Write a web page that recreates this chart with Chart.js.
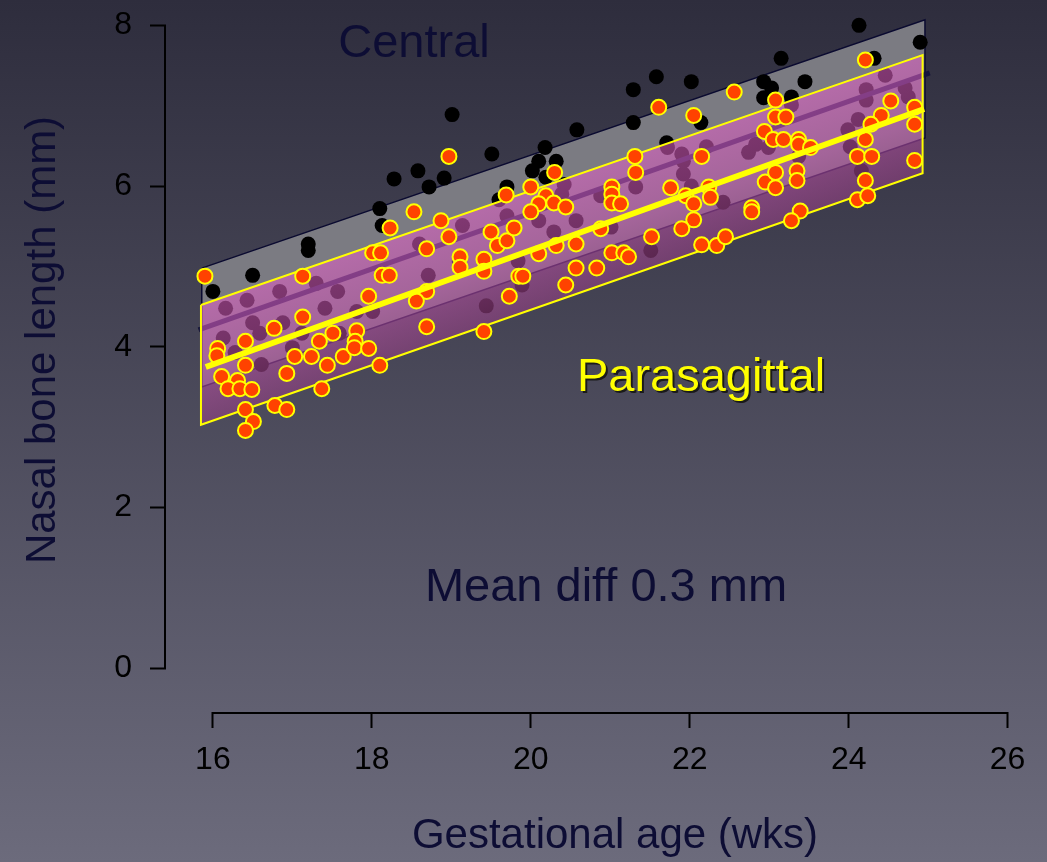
<!DOCTYPE html>
<html>
<head>
<meta charset="utf-8">
<script src="https://cdn.jsdelivr.net/npm/chart.js@4.4.1/dist/chart.umd.min.js"></script>
<style>
  html, body { margin: 0; padding: 0; background: #4c4b5e; }
  #wrap { width: 1047px; height: 862px; }
</style>
</head>
<body>
<div id="wrap"><canvas id="nasal" width="1047" height="862"></canvas></div>
<script>
// tick values
var xTicks = [16, 18, 20, 22, 24, 26];
var yTicks = [0, 2, 4, 6, 8];

// central measurements (black) - some sit under the parasagittal band
var centralX = [16.00,16.50,17.20,17.20,18.10,18.13,18.28,18.58,18.72,18.91,19.01,19.51,20.18,20.10,20.32,20.02,20.19,19.70,19.60,20.58,
  21.29,21.58,22.02,21.29,22.14,21.71,22.93,22.93,23.15,23.45,23.03,23.28,24.13,24.32,24.90,
  16.16,16.43,16.84,17.30,17.57,17.41,17.81,18.01,16.50,16.59,16.88,16.13,16.61,17.00,17.12,17.59,16.28,
  19.14,19.70,20.10,20.29,18.60,18.71,19.10,19.44,19.84,19.89,20.39,20.42,20.57,
  21.72,21.90,21.92,22.21,22.74,22.83,20.88,21.32,22.42,22.02,21.01,21.51,21.92,
  24.46,24.22,24.22,24.71,24.75,24.12,23.99,24.02,22.99,24.16,23.28,23.37];
var centralY = [4.69,4.89,5.28,5.20,5.72,5.51,6.09,6.19,5.99,6.10,6.89,6.40,6.48,6.31,6.31,6.19,6.11,5.99,5.83,6.70,
  7.20,7.36,7.30,6.79,6.79,6.54,7.30,7.10,7.59,7.30,7.22,7.11,8.00,7.59,7.79,
  4.48,4.58,4.69,4.79,4.69,4.48,4.44,4.44,4.30,4.17,4.30,4.11,3.78,3.99,4.17,4.17,3.93,
  5.51,5.63,5.57,5.43,5.28,4.89,5.06,4.51,5.07,4.77,5.90,6.02,5.57,
  6.48,6.40,6.31,6.49,6.42,6.52,5.88,5.99,5.80,6.00,5.49,5.20,6.15,
  7.38,7.20,7.07,7.22,7.11,6.83,6.70,6.49,6.48,6.19,7.01,6.37];

// parasagittal measurements (orange)
var paraX = [15.90,17.13,18.01,18.11,18.13,18.22,17.96,17.13,16.77,16.41,16.06,16.05,16.41,16.11,16.31,16.19,16.34,16.49,16.93,17.03,
  17.24,17.34,17.51,17.44,17.64,17.81,17.79,17.78,17.96,18.10,17.37,16.41,16.78,16.93,16.51,16.41,
  18.97,20.30,18.53,18.23,18.87,19.69,20.00,20.19,20.10,20.00,20.29,20.44,18.97,18.69,19.11,19.11,19.41,19.41,19.50,19.58,
  19.70,19.79,20.10,20.32,20.57,20.57,19.85,19.90,20.44,19.73,18.69,18.56,18.69,19.41,
  22.56,21.61,22.05,21.31,21.32,22.15,22.94,21.02,21.02,21.02,21.13,21.76,21.95,22.05,22.24,22.26,22.05,21.90,22.78,22.78,
  22.95,20.88,21.52,21.02,21.17,21.23,22.15,22.34,22.45,20.83,
  24.21,23.08,23.08,23.21,23.05,23.18,23.37,23.37,23.52,24.53,24.41,24.28,24.83,24.83,24.21,24.11,24.29,24.83,23.08,23.08,
  23.35,23.35,24.21,24.11,24.24,23.39,23.28];
var paraY = [4.88,4.88,5.17,5.17,4.89,4.89,4.63,4.37,4.23,4.07,3.98,3.89,3.77,3.63,3.58,3.48,3.48,3.47,3.67,3.88,
  3.88,4.07,4.17,3.77,3.88,4.20,4.07,3.99,3.98,3.77,3.48,3.22,3.27,3.22,3.07,2.96,
  6.37,6.17,5.68,5.48,5.57,5.89,5.99,5.88,5.78,5.68,5.79,5.74,5.37,5.22,5.12,4.99,5.09,4.94,5.43,5.26,
  5.32,5.48,5.16,5.26,5.28,4.98,4.88,4.88,4.77,4.63,4.69,4.57,4.25,4.19,
  7.17,6.98,6.88,6.37,6.17,6.37,6.68,5.99,5.90,5.79,5.78,5.98,5.88,5.78,5.99,5.86,5.58,5.47,5.73,5.68,
  6.05,5.47,5.37,5.17,5.17,5.12,5.27,5.26,5.37,4.98,
  7.57,7.07,6.86,6.86,6.58,6.58,6.58,6.52,6.48,7.06,6.88,6.77,6.98,6.77,6.58,6.37,6.37,6.32,6.17,5.98,
  6.19,6.07,6.07,5.83,5.88,5.69,5.57];

// reference bands (ends only) and mean lines
var centralBandX = [15.86, 24.96];
var centralUpper = [4.98, 8.07];
var centralLower = [3.50, 6.60];
var paraBandX = [15.85, 24.93];
var paraUpper = [4.52, 7.63];
var paraLower = [3.03, 6.16];
var centralMeanX = [15.82, 25.02];
var centralMeanY = [4.21, 7.41];
var paraMeanX = [15.91, 24.95];
var paraMeanY = [3.75, 6.96];

var FONT = "'Liberation Sans', Arial, sans-serif";
var NAVY = '#0d0d34';

function pts(xs, ys) {
  var out = [];
  for (var i = 0; i < xs.length; i++) out.push({x: xs[i], y: ys[i]});
  return out;
}

function band(xs, up, lo) {
  return [
    {x: xs[0], y: up[0]}, {x: xs[1], y: up[1]},
    {x: xs[1], y: lo[1]}, {x: xs[0], y: lo[0]},
    {x: xs[0], y: up[0]}
  ];
}

// pink fill shaded across the band (light at the top, darker at the bottom)
function paraFill(context) {
  var chart = context.chart;
  var xs = chart.scales.x, ys = chart.scales.y;
  if (!chart.chartArea || !xs || !ys) return 'rgba(190,78,170,0.58)';
  var xm = (paraBandX[0] + paraBandX[1]) / 2;
  var t = 0.5;
  var px0 = xs.getPixelForValue(xm);
  var pyTop = ys.getPixelForValue(paraUpper[0] + (paraUpper[1] - paraUpper[0]) * t);
  var pyBot = ys.getPixelForValue(paraLower[0] + (paraLower[1] - paraLower[0]) * t);
  var s = (ys.getPixelForValue(paraUpper[1]) - ys.getPixelForValue(paraUpper[0])) /
          (xs.getPixelForValue(paraBandX[1]) - xs.getPixelForValue(paraBandX[0]));
  var len = Math.sqrt(1 + s * s);
  var d = (pyBot - pyTop) / len;
  var g = chart.ctx.createLinearGradient(px0, pyTop, px0 + (-s / len) * d, pyTop + (1 / len) * d);
  g.addColorStop(0, 'rgba(222,96,196,0.58)');
  g.addColorStop(0.55, 'rgba(192,84,170,0.58)');
  g.addColorStop(1, 'rgba(150,64,132,0.58)');
  return g;
}

var backdrop = {
  id: 'backdrop',
  beforeDraw: function(chart) {
    var ctx = chart.ctx;
    var g = ctx.createLinearGradient(0, 0, 0, chart.height);
    g.addColorStop(0, '#2e2d3d');
    g.addColorStop(1, '#6c6b7c');
    ctx.save();
    ctx.fillStyle = g;
    ctx.fillRect(0, 0, chart.width, chart.height);
    ctx.restore();
  }
};

var decorations = {
  id: 'decorations',
  afterDraw: function(chart) {
    var ctx = chart.ctx;
    var xs = chart.scales.x, ys = chart.scales.y;
    var area = chart.chartArea;
    ctx.save();
    // detached axis lines
    ctx.strokeStyle = '#000';
    ctx.lineWidth = 2;
    ctx.beginPath();
    ctx.moveTo(area.left - 1, ys.getPixelForValue(yTicks[0]));
    ctx.lineTo(area.left - 1, ys.getPixelForValue(yTicks[yTicks.length - 1]));
    ctx.moveTo(xs.getPixelForValue(xTicks[0]), area.bottom + 1);
    ctx.lineTo(xs.getPixelForValue(xTicks[xTicks.length - 1]), area.bottom + 1);
    ctx.stroke();

    ctx.textAlign = 'center';
    ctx.textBaseline = 'alphabetic';

    ctx.fillStyle = NAVY;
    ctx.font = '47px ' + FONT;
    ctx.fillText('Central', 414, 57);
    ctx.fillText('Mean diff 0.3 mm', 606, 601);

    ctx.font = '42px ' + FONT;
    ctx.fillText('Gestational age (wks)', 615, 848);

    ctx.save();
    ctx.translate(55, 340);
    ctx.rotate(-Math.PI / 2);
    ctx.fillText('Nasal bone length (mm)', 0, 0);
    ctx.restore();

    ctx.font = '47px ' + FONT;
    ctx.fillStyle = '#1a1a1a';
    ctx.fillText('Parasagittal', 703, 393);
    ctx.fillStyle = '#ffff00';
    ctx.fillText('Parasagittal', 701, 391);
    ctx.restore();
  }
};

new Chart(document.getElementById('nasal').getContext('2d'), {
  type: 'scatter',
  data: {
    datasets: [
      {
        type: 'line', label: 'Parasagittal mean', order: 0,
        data: pts(paraMeanX, paraMeanY),
        borderColor: '#ffff00', borderWidth: 6, pointRadius: 0, fill: false, tension: 0
      },
      {
        label: 'Parasagittal', order: 1,
        data: pts(paraX, paraY),
        backgroundColor: '#ff4200', borderColor: '#ffff00',
        pointRadius: 7.5, pointBorderWidth: 2, pointHoverRadius: 7.5
      },
      {
        type: 'line', label: 'Parasagittal band', order: 2,
        data: band(paraBandX, paraUpper, paraLower),
        borderColor: '#ffff00', borderWidth: 2, pointRadius: 0, tension: 0,
        fill: 'shape', backgroundColor: paraFill
      },
      {
        type: 'line', label: 'Central mean', order: 3,
        data: pts(centralMeanX, centralMeanY),
        borderColor: '#14143c', borderWidth: 5, pointRadius: 0, fill: false, tension: 0
      },
      {
        label: 'Central', order: 4,
        data: pts(centralX, centralY),
        backgroundColor: '#000000', borderWidth: 0,
        pointRadius: 7.5, pointHoverRadius: 7.5
      },
      {
        type: 'line', label: 'Central band', order: 5,
        data: band(centralBandX, centralUpper, centralLower),
        borderColor: '#0a0a30', borderWidth: 1.5, pointRadius: 0, tension: 0,
        fill: 'shape', backgroundColor: '#7b7b82'
      }
    ]
  },
  options: {
    responsive: false,
    animation: false,
    events: [],
    layout: { padding: { top: 4, right: 7, bottom: 0, left: 0 } },
    plugins: { legend: { display: false }, tooltip: { enabled: false } },
    scales: {
      x: {
        type: 'linear', min: 15.41, max: 26.376,
        afterBuildTicks: function(s) { s.ticks = xTicks.map(function(v) { return {value: v}; }); },
        afterFit: function(s) { s.height = 150; s.paddingLeft = 0; s.paddingRight = 0; },
        border: { display: false },
        grid: { drawOnChartArea: false, drawTicks: true, tickLength: 16, tickWidth: 2, tickColor: '#000' },
        ticks: { color: '#000', font: { family: FONT, size: 32 }, padding: 13, maxRotation: 0, autoSkip: false }
      },
      y: {
        type: 'linear', min: -0.5432, max: 8.1975,
        afterBuildTicks: function(s) { s.ticks = yTicks.map(function(v) { return {value: v}; }); },
        afterFit: function(s) { s.width = 166; s.paddingTop = 0; s.paddingBottom = 0; },
        border: { display: false },
        grid: { drawOnChartArea: false, drawTicks: true, tickLength: 16, tickWidth: 2, tickColor: '#000' },
        ticks: { color: '#000', font: { family: FONT, size: 32 }, padding: 18 }
      }
    }
  },
  plugins: [backdrop, decorations]
});
</script>
</body>
</html>
